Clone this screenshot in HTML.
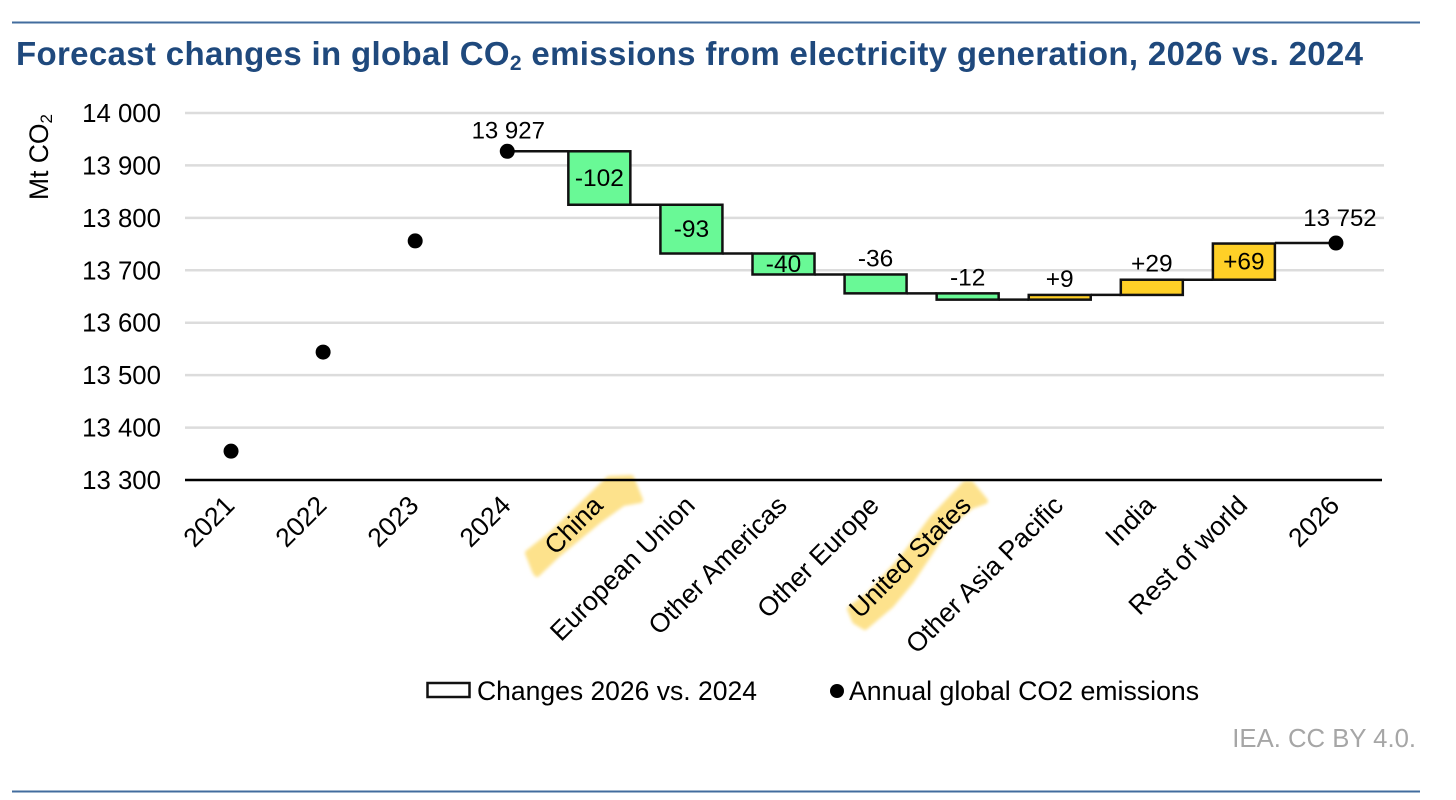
<!DOCTYPE html>
<html lang="en">
<head>
<meta charset="utf-8">
<title>Forecast changes in global CO2 emissions from electricity generation, 2026 vs. 2024</title>
<style>
html,body{margin:0;padding:0;background:#fff;width:1456px;height:800px;overflow:hidden}
svg{display:block;font-family:"Liberation Sans",Arial,sans-serif}
</style>
</head>
<body>
<svg id="chart" width="1456" height="800" viewBox="0 0 1456 800" xmlns="http://www.w3.org/2000/svg">
  <defs>
    <filter id="soft" x="-10%" y="-10%" width="120%" height="120%"><feGaussianBlur stdDeviation="1.6"/></filter>
  </defs>
  <rect width="1456" height="800" fill="#fff"/>
  <line x1="12" y1="22.5" x2="1420" y2="22.5" stroke="#426c9e" stroke-width="2"/>
  <line x1="12" y1="791.5" x2="1420" y2="791.5" stroke="#426c9e" stroke-width="2"/>
  <text x="16" y="65" font-size="33" font-weight="700" fill="#1f497d" textLength="1347" lengthAdjust="spacing">Forecast changes in global CO<tspan font-size="21" dy="5">2</tspan><tspan dy="-5"> emissions from electricity generation, 2026 vs. 2024</tspan></text>
  <text transform="translate(48,200) rotate(-90)" font-size="26.5" fill="#000">Mt CO<tspan font-size="17" dy="4">2</tspan></text>
  <g id="grid"></g>
  <g fill="#fde28c" stroke="#fde28c" stroke-width="6" stroke-linejoin="round" filter="url(#soft)">
    <polygon points="609,479 631,478 640,500 623,503 598,521 558,554 537,574 535,571 528,553 552,534 582,505"/>
    <polygon points="965,484 971,484 985,501 971,506 948,525 931,551 911,581 891,605 865,627 855,621 850,609 869,595 902,559 932,519"/>
  </g>
  <g id="yticks"></g>
  <g id="connectors"></g>
  <g id="bars"></g>
  <g id="points"></g>
  <line x1="185" y1="480" x2="1382" y2="480" stroke="#000" stroke-width="2.5"/>
  <g id="xlabels"></g>
  <g>
    <g>
      <rect x="427.5" y="683" width="42" height="14" fill="#fff" stroke="#111" stroke-width="2.5"/>
      <text x="477" y="700" font-size="26.5" fill="#000">Changes 2026 vs. 2024</text>
    </g>
    <g>
      <circle cx="837" cy="691" r="7" fill="#000"/>
      <text x="849" y="700" font-size="26.7" fill="#000">Annual global CO2 emissions</text>
    </g>
  </g>
  <text x="1416" y="747" text-anchor="end" font-size="25.7" fill="#a6a6a6">IEA. CC BY 4.0.</text>
</svg>
<script>
const categories = ['2021','2022','2023','2024','China','European Union','Other Americas','Other Europe','United States','Other Asia Pacific','India','Rest of world','2026'];
const annualYears = ['2021','2022','2023','2024','2026'];
const annualValues = [13355,13544,13756,13927,13752];
const labelledYears = ['2024','2026'];
const changeRegions = ['China','European Union','Other Americas','Other Europe','United States','Other Asia Pacific','India','Rest of world'];
const changeValues = [-102,-93,-40,-36,-12,9,29,69];
const changeLabels = ['-102','-93','-40','-36','-12','+9','+29','+69'];
const tickValues = [13300,13400,13500,13600,13700,13800,13900,14000];
const tickLabels = ['13 300','13 400','13 500','13 600','13 700','13 800','13 900','14 000'];
const pointLabels = ['13 927','13 752'];

const NS = 'http://www.w3.org/2000/svg';
const plotLeft = 185, plotRight = 1382, plotTop = 113, plotBottom = 480;
const yMin = tickValues[0], yMax = tickValues[tickValues.length - 1];
const step = (plotRight - plotLeft) / categories.length;
const barWidth = 62;

function yScale(v) { return plotBottom - (v - yMin) / (yMax - yMin) * (plotBottom - plotTop); }
function xScale(c) { return plotLeft + step * (categories.indexOf(c) + 0.5); }
function make(tag, attrs, parent, text) {
  const el = document.createElementNS(NS, tag);
  for (const k in attrs) el.setAttribute(k, attrs[k]);
  if (text !== undefined) el.textContent = text;
  parent.appendChild(el);
  return el;
}
const gridG = document.getElementById('grid');
const ytickG = document.getElementById('yticks');
const connG = document.getElementById('connectors');
const barG = document.getElementById('bars');
const pointG = document.getElementById('points');
const xlabelG = document.getElementById('xlabels');

tickValues.forEach(function (t, i) {
  const y = yScale(t);
  if (i > 0) {
    const g = make('line', {x1: plotLeft, x2: plotRight + 2, y1: y, y2: y, stroke: '#dcdcdc', 'stroke-width': 2.5}, gridG);
    
    
  }
  const lab = make('text', {x: 161, y: y + 9, 'text-anchor': 'end', 'font-size': 25.8, fill: '#000'}, ytickG, tickLabels[i]);
  
  
});

categories.forEach(function (c) {
  const x = xScale(c);
  const lab = make('text', {transform: 'translate(' + (x + 5) + ',507) rotate(-45)', 'text-anchor': 'end', 'font-size': 26.5, fill: '#000'}, xlabelG, c);
  
  
});

let level = annualValues[annualYears.indexOf('2024')];
let prevX = xScale('2024');
changeValues.forEach(function (d, i) {
  const region = changeRegions[i];
  const cx = xScale(region);
  const next = level + d;
  const top = yScale(Math.max(level, next));
  const bottom = yScale(Math.min(level, next));

  const conn = make('line', {x1: prevX, x2: cx - barWidth / 2, y1: yScale(level), y2: yScale(level), stroke: '#111', 'stroke-width': 2.5}, connG);
  
  

  const bar = make('rect', {x: cx - barWidth / 2, y: top, width: barWidth, height: bottom - top, fill: d < 0 ? '#69f996' : '#ffd027', stroke: '#111', 'stroke-width': 2.5}, barG);
  
  

  const inside = Math.abs(d) >= 40;
  const ly = inside ? (top + bottom) / 2 + 8 : top - 8;
  const lab = make('text', {x: cx, y: ly, 'text-anchor': 'middle', 'font-size': 24.5, fill: '#000'}, barG, changeLabels[i]);
  
  

  level = next;
  prevX = cx + barWidth / 2;
});
const finalConn = make('line', {x1: prevX, x2: xScale('2026'), y1: yScale(annualValues[annualYears.indexOf('2026')]), y2: yScale(annualValues[annualYears.indexOf('2026')]), stroke: '#111', 'stroke-width': 2.5}, connG);



annualYears.forEach(function (yr, i) {
  const x = xScale(yr), y = yScale(annualValues[i]);
  const dot = make('circle', {cx: x, cy: y, r: 7.5, fill: '#000'}, pointG);
  
  
  const li = labelledYears.indexOf(yr);
  if (li >= 0) {
    const lab = make('text', {x: x + (li === 0 ? 1 : 4), y: y - (li === 0 ? 13 : 17), 'text-anchor': 'middle', 'font-size': 24, fill: '#000'}, pointG, pointLabels[li]);
    
    
  }
});
</script>
</body>
</html>
